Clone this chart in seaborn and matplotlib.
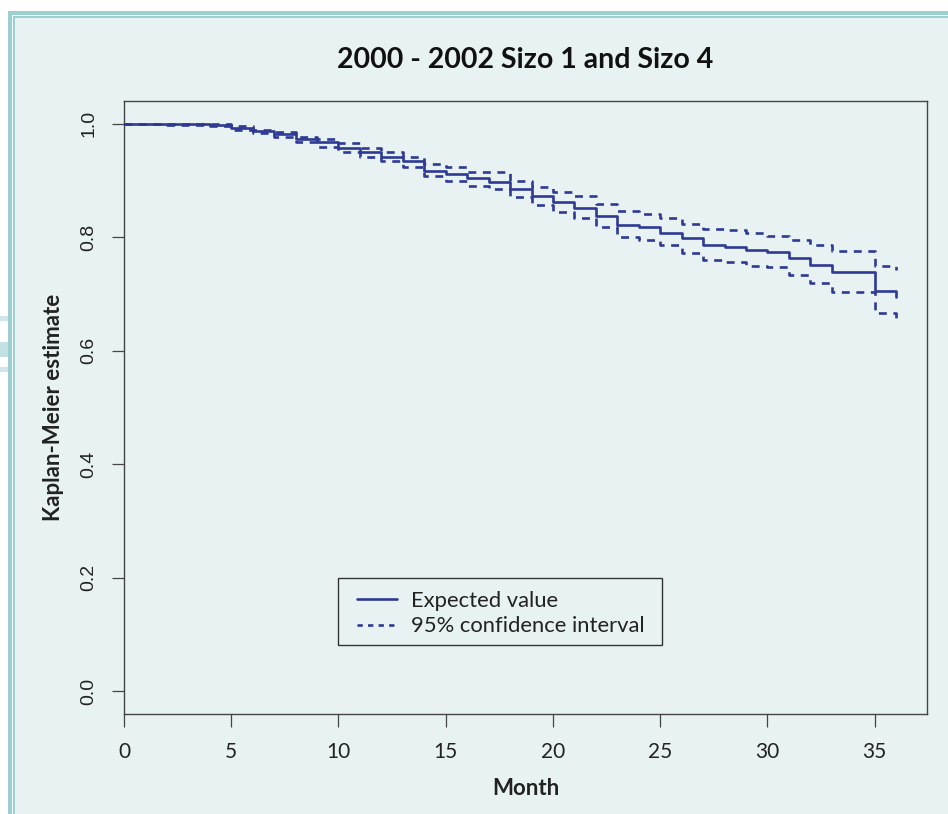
import matplotlib
matplotlib.use("Agg")
import matplotlib.pyplot as plt
from matplotlib.patches import Rectangle
from matplotlib.lines import Line2D
import seaborn as sns
import pandas as pd

# ---- data ----
months = [0, 2, 4, 5, 6, 7, 8, 9, 10, 11, 12, 13, 14, 15, 16, 17, 18, 19, 20,
          21, 22, 23, 24, 25, 26, 27, 28, 29, 30, 31, 32, 33, 35, 36]
survival = [1.000, 0.999, 0.998, 0.992, 0.987, 0.982, 0.973, 0.967, 0.958, 0.951,
            0.942, 0.935, 0.917, 0.911, 0.904, 0.898, 0.885, 0.872, 0.862, 0.851,
            0.837, 0.822, 0.818, 0.807, 0.799, 0.786, 0.783, 0.777, 0.774, 0.764,
            0.751, 0.738, 0.706, 0.695]
upper = [1.000, 1.000, 1.000, 0.9965, 0.989, 0.985, 0.976, 0.9725, 0.966, 0.958,
         0.951, 0.942, 0.929, 0.924, 0.915, 0.915, 0.899, 0.889, 0.879, 0.872,
         0.859, 0.847, 0.841, 0.833, 0.823, 0.815, 0.813, 0.808, 0.802, 0.795,
         0.786, 0.775, 0.749, 0.743]
lower = [1.000, 0.997, 0.996, 0.989, 0.9835, 0.9765, 0.967, 0.959, 0.951, 0.942,
         0.935, 0.923, 0.907, 0.899, 0.891, 0.885, 0.870, 0.857, 0.845, 0.833,
         0.818, 0.801, 0.795, 0.786, 0.773, 0.760, 0.756, 0.750, 0.748, 0.733,
         0.719, 0.704, 0.666, 0.654]
x_ticks = [0, 5, 10, 15, 20, 25, 30, 35]
y_ticks = [0.0, 0.2, 0.4, 0.6, 0.8, 1.0]
title = "2000 - 2002 Sizo 1 and Sizo 4"
legend_labels = ["Expected value", "95% confidence interval"]

BG = "#E8F2F3"
TEAL = "#9DCFD1"
LINE = "#2E3A93"

sns.set_theme(style="white")
plt.rcParams["font.family"] = ["Lato", "DejaVu Sans"]

W, H = 948, 814
fig = plt.figure(figsize=(W / 100, H / 100), dpi=100)
fig.patch.set_facecolor("white")

def px_rect(x0, y0, x1, y1, color):
    # pixel coordinates with origin at top-left
    fig.patches.append(Rectangle((x0 / W, 1 - y1 / H), (x1 - x0) / W, (y1 - y0) / H,
                                 transform=fig.transFigure, facecolor=color,
                                 edgecolor="none", zorder=-10))

# page frame
px_rect(8, 11, W, H, TEAL)
px_rect(11.5, 14.5, W, H, "#F4FAFA")
px_rect(13, 16, W, H, TEAL)
px_rect(14.5, 17.5, W, H, BG)
# left-edge page stripes
px_rect(0, 316, 8, 321, "#CFE7E8")
px_rect(0, 342, 8, 357, "#C2E0E1")
px_rect(0, 367, 8, 372, "#CFE7E8")

ax = fig.add_axes([124 / W, 1 - 714 / H, (927 - 124) / W, (714 - 101) / H])
ax.set_facecolor(BG)

df = pd.DataFrame({"month": months, "survival": survival,
                   "upper": upper, "lower": lower})

sns.lineplot(data=df, x="month", y="survival", ax=ax, color=LINE, lw=1.9,
             drawstyle="steps-post", estimator=None, zorder=3)
for col in ["upper", "lower"]:
    sns.lineplot(data=df, x="month", y=col, ax=ax, color=LINE, lw=1.9,
                 drawstyle="steps-post", estimator=None, zorder=2,
                 linestyle=(0, (3.0, 2.5)))

ax.set_xlim(0, 37.44)
ax.set_ylim(-0.04, 1.04)
ax.set_xticks(x_ticks)
ax.set_yticks(y_ticks)
ax.set_xticklabels([str(v) for v in x_ticks], fontsize=15, color="#222222")
ax.set_yticklabels([f"{v:.1f}" for v in y_ticks], fontsize=14, rotation=90,
                   va="center", family=["Liberation Sans"], color="#222222")
ax.tick_params(axis="both", which="both", direction="out", length=9, width=0.9,
               color="#444444", bottom=True, left=True)
ax.tick_params(axis="x", pad=11)
ax.tick_params(axis="y", pad=10)
for s in ax.spines.values():
    s.set_visible(True)
    s.set_color("#444444")
    s.set_linewidth(1.0)

ax.set_xlabel("Month", fontsize=16, fontweight="bold", color="#222222", labelpad=12)
ax.set_ylabel("Kaplan-Meier estimate", fontsize=16, fontweight="bold",
              color="#222222", labelpad=12)
ax.set_title(title, fontsize=20.5, fontweight="bold", color="#111111", pad=24)

# legend box (drawn as a frame) and legend content
ax.add_patch(Rectangle((0.2665, 0.1126), 0.670 - 0.2665, 0.2219 - 0.1126,
                       transform=ax.transAxes, facecolor=BG, edgecolor="#333333",
                       linewidth=1.0, zorder=4))
handles = [Line2D([], [], color=LINE, lw=1.9),
           Line2D([], [], color=LINE, lw=1.9, linestyle=(0, (2.0, 2.0)))]
leg = ax.legend(handles, legend_labels, loc="center left",
                bbox_to_anchor=(0.2902, 0.164), fontsize=15.8, frameon=False,
                borderpad=0, handlelength=1.8, handletextpad=0.68,
                labelspacing=0.25, borderaxespad=0)
leg.set_zorder(5)
for t in leg.get_texts():
    t.set_color("#222222")

fig.savefig("out.png", dpi=100, facecolor=fig.get_facecolor())
